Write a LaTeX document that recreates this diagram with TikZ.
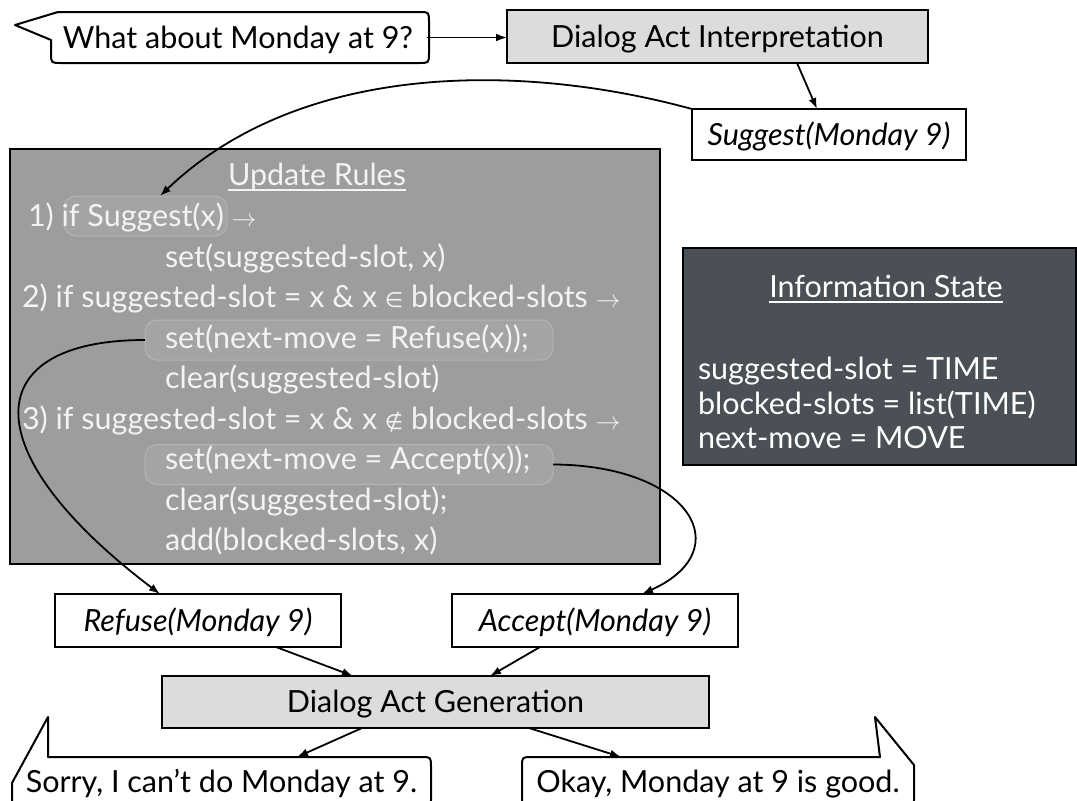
\documentclass[tikz,border=0pt]{standalone}
\usepackage{fontspec}
\setmainfont{Lato}
\newfontfamily\symbolfont{DejaVu Sans}
\usetikzlibrary{arrows.meta}

\definecolor{procfill}{HTML}{DCDCDC}
\definecolor{rulefill}{HTML}{9C9D9C}
\definecolor{hlfill}{HTML}{A3A4A3}
\definecolor{hlline}{HTML}{B3B4B3}
\definecolor{statefill}{HTML}{4B4F56}
\definecolor{softwhite}{HTML}{F3F3F3}

% small set-membership signs
\newcommand{\member}{{\symbolfont\fontsize{21}{21}\selectfont ∈}}
\newcommand{\nonmember}{{\symbolfont\fontsize{21}{21}\selectfont ∉}}

\begin{document}
\begin{tikzpicture}[x=1pt,y=-1pt,
  every node/.style={inner sep=0pt, outer sep=0pt},
  txt/.style={font=\fontsize{30.5}{36}\selectfont, text height=21.5pt, text depth=0pt},
  procbox/.style={txt, draw=black, line width=2pt, fill=procfill},
  actbox/.style={txt, draw=black, line width=2pt, fill=white, font=\fontsize{30.5}{36}\selectfont\itshape},
  panel/.style={draw=black, line width=2pt},
  bubble/.style={draw=black, line width=2pt, fill=white, line join=round},
  link/.style={line width=1.8pt, -{Latex[length=11pt,width=8pt]}},
  ruleline/.style={txt, anchor=west, text=softwhite},
  hl/.style={draw=hlline, fill=hlfill, line width=1pt, rounded corners=12pt},
  uline/.style={softwhite, line width=1.6pt},
]
\useasboundingbox (0,0) rectangle (1077,801);

% speech bubble: incoming utterance
\draw[bubble] (58,12) -- (419,12) .. controls (429,12) .. (429,22) -- (429,53)
  .. controls (429,63) .. (419,63) -- (61,63) .. controls (51,63) .. (51,53)
  -- (51,40) -- (15,25) -- cycle;
\node[txt, minimum width=378pt, minimum height=51pt] (ask) at (238,37.5) {What about Monday at 9?};

% interpretation and its result
\node[procbox, minimum width=421pt, minimum height=53pt] (dai) at (717.5,36.5) {Dialog Act Interpretation};
\node[actbox, minimum width=274pt, minimum height=51pt] (sug) at (829,134.5) {Suggest(Monday 9)};

% update rules panel
\node[panel, fill=rulefill, minimum width=650pt, minimum height=415pt] (upd) at (335,356.5) {};
\node[hl, minimum width=163pt, minimum height=40pt] (hlsug) at (145.5,216) {};
\node[hl, minimum width=408pt, minimum height=40pt] (hlref) at (349,340) {};
\node[hl, minimum width=408pt, minimum height=40pt] (hlacc) at (349,464.5) {};

\node[txt, text=softwhite] (updt) at (317,175) {Update Rules};
\draw[uline] ([yshift=-4pt]updt.south west) -- ([yshift=-4pt]updt.south east);

\node[ruleline] (r1)  at (28,216)   {1) if Suggest(x) $\to$};
\node[ruleline] (r1a) at (165,256.5) {set(suggested-slot, x)};
\node[ruleline] (r2)  at (22,297)   {2) if suggested-slot = x \& x \member{} blocked-slots $\to$};
\node[ruleline] (r2a) at (165,337.5) {set(next-move = Refuse(x));};
\node[ruleline] (r2b) at (165,378)  {clear(suggested-slot)};
\node[ruleline] (r3)  at (22,418.5) {3) if suggested-slot = x \& x \nonmember{} blocked-slots $\to$};
\node[ruleline] (r3a) at (165,459)  {set(next-move = Accept(x));};
\node[ruleline] (r3b) at (165,499.5) {clear(suggested-slot);};
\node[ruleline] (r3c) at (165,540)  {add(blocked-slots, x)};

% information state panel
\node[panel, fill=statefill, minimum width=393pt, minimum height=217pt] (info) at (879.5,356.5) {};
\node[txt, text=white] (infot) at (886,287) {Information State};
\draw[white, line width=1.6pt] ([yshift=-4pt]infot.south west) -- ([yshift=-4pt]infot.south east);
\node[txt, anchor=west, text=white] (s1) at (698,369)   {suggested-slot = TIME};
\node[txt, anchor=west, text=white] (s2) at (698,403.5) {blocked-slots = list(TIME)};
\node[txt, anchor=west, text=white] (s3) at (698,438)   {next-move = MOVE};

% output acts and generation
\node[actbox, minimum width=286pt, minimum height=53pt] (refuse) at (198,620.5) {Refuse(Monday 9)};
\node[actbox, minimum width=286pt, minimum height=53pt] (accept) at (595,620.5) {Accept(Monday 9)};
\node[procbox, minimum width=547pt, minimum height=52pt] (dag) at (435.5,702) {Dialog Act Generation};

% speech bubbles: system replies
\draw[bubble] (48,757) -- (48,717) -- (12,783) -- (12,799) .. controls (12,809) .. (22,809)
  -- (421,809) .. controls (431,809) .. (431,799) -- (431,767) .. controls (431,757) .. (421,757) -- cycle;
\node[txt, minimum height=50pt] (sorry) at (221.5,782) {Sorry, I can’t do Monday at 9.};
\draw[bubble] (880,757) -- (875,717) -- (914,765) -- (914,799) .. controls (914,809) .. (904,809)
  -- (532,809) .. controls (522,809) .. (522,799) -- (522,767) .. controls (522,757) .. (532,757) -- cycle;
\node[txt, minimum height=50pt] (okay) at (718,782) {Okay, Monday at 9 is good.};

% connectors
\draw[link] (ask.east) -- (ask.east -| dai.west);
\draw[link] ([xshift=79.5pt]dai.south) -- ([xshift=-12pt]sug.north);
\draw[link] (sug.north west) .. controls (520,62) and (300,62) .. ([xshift=14.5pt]hlsug.north);
\draw[link] (hlref.west) .. controls (-20,340) and (-30,450) .. ([xshift=105pt]refuse.north west);
\draw[link] (hlacc.east) .. controls (690,465) and (740,550) .. ([xshift=190pt]accept.north west);
\draw[link] ([xshift=78pt]refuse.south) -- ([xshift=-82.5pt]dag.north);
\draw[link] ([xshift=-55pt]accept.south) -- ([xshift=54.5pt]dag.north);
\draw[link] ([xshift=-73.5pt]dag.south) -- ([xshift=75.5pt]sorry.north);
\draw[link] ([xshift=93.5pt]dag.south) -- ([xshift=-97pt]okay.north);
\end{tikzpicture}
\end{document}
